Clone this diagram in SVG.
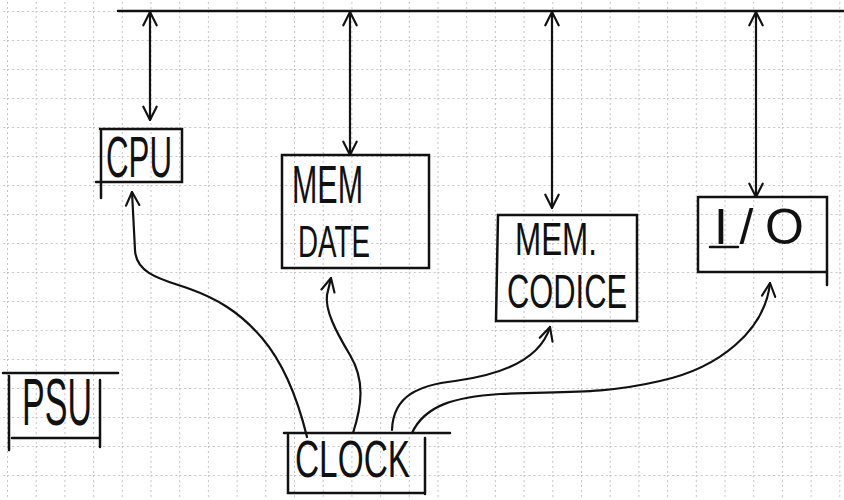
<svg xmlns="http://www.w3.org/2000/svg" width="844" height="500" viewBox="0 0 844 500">
  <style>
    .box { fill: none; stroke: #111; stroke-width: 2.5; stroke-linecap: round; }
    .lbl { font-family: "Liberation Sans", "DejaVu Sans", sans-serif; fill: #111; }
    .wire { fill: none; stroke: #111; stroke-width: 2.2; stroke-linecap: round; }
  </style>
  <defs>
    <pattern id="grid" x="7" y="11" width="28.7" height="29" patternUnits="userSpaceOnUse">
      <path d="M0.5,0 V29 M0,0.5 H28.7" fill="none" stroke="#c4c4c4" stroke-width="1" stroke-dasharray="2 3"/>
    </pattern>
    <marker id="ah" viewBox="0 0 12 12" refX="11" refY="6" markerWidth="16" markerHeight="16" markerUnits="userSpaceOnUse" orient="auto-start-reverse">
      <path d="M1,1 L11,6 L1,11" fill="none" stroke="#111" stroke-width="1.6" stroke-linecap="round" stroke-linejoin="round"/>
    </marker>
  </defs>
  <rect width="844" height="500" fill="#fff"/>
  <rect width="844" height="500" fill="url(#grid)"/>

  <g id="bus">
    <line class="box" x1="118" y1="11" x2="844" y2="11"/>
  </g>

  <g id="connectors">
    <line class="wire" x1="150" y1="12" x2="150" y2="120" marker-start="url(#ah)" marker-end="url(#ah)"/>
    <line class="wire" x1="350" y1="12" x2="350" y2="155" marker-start="url(#ah)" marker-end="url(#ah)"/>
    <line class="wire" x1="552" y1="12" x2="552" y2="208" marker-start="url(#ah)" marker-end="url(#ah)"/>
    <line class="wire" x1="756" y1="12" x2="756" y2="197" marker-start="url(#ah)" marker-end="url(#ah)"/>
    <path class="wire" d="M307,437 C298,400 285,365 262,338 S215,298 190,289 S136,275 135,250 L132,192" marker-end="url(#ah)"/>
    <path class="wire" d="M353,433 C362,405 365,380 350,355 C335,330 325,310 327,295 L331,278" marker-end="url(#ah)"/>
    <path class="wire" d="M392,430 C393,395 420,385 455,381 C500,375 540,360 550,327" marker-end="url(#ah)"/>
    <path class="wire" d="M412,433 C425,405 455,397 500,394 C560,391 600,395 660,381 C720,368 765,330 770,283" marker-end="url(#ah)"/>
  </g>

  <g id="cpu">
    <path class="box" d="M100,129 H182 V182 H96 M101,129 V198"/>
    <text class="lbl" x="106" y="177" font-size="58" textLength="66" lengthAdjust="spacingAndGlyphs">CPU</text>
  </g>

  <g id="mem-dati">
    <path class="box" d="M282,155 H429 V268 H282 Z"/>
    <text class="lbl" x="292" y="203" font-size="54" textLength="71" lengthAdjust="spacingAndGlyphs">MEM</text>
    <text class="lbl" x="298" y="257" font-size="44" textLength="72" lengthAdjust="spacingAndGlyphs">DATE</text>
  </g>

  <g id="mem-codice">
    <path class="box" d="M498,215 H637 V321 H496 Z"/>
    <text class="lbl" x="515" y="255" font-size="46" textLength="82" lengthAdjust="spacingAndGlyphs">MEM.</text>
    <text class="lbl" x="507" y="308" font-size="48" textLength="120" lengthAdjust="spacingAndGlyphs">CODICE</text>
  </g>

  <g id="io">
    <path class="box" d="M698,197 H827 V285 M827,272 H698 V197"/>
    <text class="lbl" x="714" y="244" font-size="50" textLength="90" lengthAdjust="spacing">I/O</text>
    <line class="box" x1="710" y1="247" x2="738" y2="247" stroke-width="2"/>
  </g>

  <g id="psu">
    <path class="box" d="M3,373 H118 M9,376 V450 M100,380 V447 M12,438 H100"/>
    <text class="lbl" x="22" y="425" font-size="66" textLength="70" lengthAdjust="spacingAndGlyphs">PSU</text>
  </g>

  <g id="clock">
    <path class="box" d="M284,433 H450 M288,435 V493 H425 M425,438 V494"/>
    <text class="lbl" x="295" y="477" font-size="52" textLength="115" lengthAdjust="spacingAndGlyphs">CLOCK</text>
  </g>
</svg>
